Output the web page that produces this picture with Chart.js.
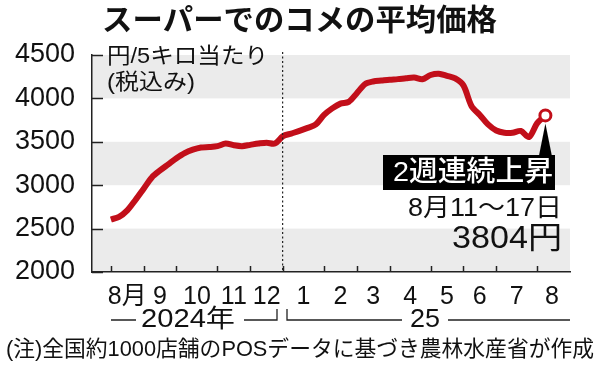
<!DOCTYPE html>
<html>
<head>
<meta charset="utf-8">
<script src="https://cdn.jsdelivr.net/npm/chart.js@4.4.0/dist/chart.umd.min.js"></script>
<style>
  html, body { margin: 0; padding: 0; background: #fff; }
  canvas { display: block; }
</style>
</head>
<body>
<canvas id="riceChart" width="600" height="365"></canvas>
<script>
// weekly average price, yen per 5kg (tax incl.), Aug 2024 -> Aug 11-17 2025
const prices = [
  2605, 2635, 2710, 2830, 2960, 3090, 3170, 3240, 3310, 3370,
  3410, 3435, 3440, 3450, 3480, 3460, 3450, 3465, 3480, 3490,
  3480, 3565, 3595, 3625, 3660, 3700, 3810, 3885, 3940, 3960,
  4060, 4165, 4195, 4205, 4215, 4222, 4232, 4240, 4220, 4270,
  4285, 4260, 4230, 4150, 3910, 3810, 3700, 3630, 3605, 3605,
  3625, 3555, 3715, 3804
];
const weekIndex = prices.map((_, i) => i);

// month boundaries and label centres, in weeks from the first point
const monthStarts = [0, 4, 8, 13, 17, 21, 26, 30, 34, 39, 43, 47, 52];
const monthLabelPos = [2, 6, 10.5, 15, 19, 23.5, 28, 32, 36.5, 41, 45, 49.5, 53.8];
const monthLabels = ['8月', '9', '10', '11', '12', '1', '2', '3', '4', '5', '6', '7', '8'];
const yTicks = [2000, 2500, 3000, 3500, 4000, 4500];
const yearBreak = 21;

const FONT = '"Liberation Sans", "Noto Sans CJK JP", sans-serif';
const JP = '"Noto Sans CJK JP", sans-serif';
const RED = '#c20f1a';
const INK = '#111';

// draw text squeezed/stretched to a given width
function fitText(ctx, text, left, midY, width, font, color) {
    ctx.save();
    ctx.font = font;
    ctx.fillStyle = color || INK;
    ctx.textAlign = 'left';
    ctx.textBaseline = 'middle';
    const w = ctx.measureText(text).width;
    ctx.translate(left, midY);
    ctx.scale(width / w, 1);
    ctx.fillText(text, 0, 0);
    ctx.restore();
}

const decor = {
    id: 'decor',
    beforeDraw(chart) {
        const { ctx, chartArea: a, scales: { y } } = chart;
        ctx.save();
        ctx.fillStyle = '#ebebeb';
        [[4000, 4500], [3000, 3500], [2000, 2500]].forEach(([lo, hi]) => {
            const top = y.getPixelForValue(hi);
            ctx.fillRect(a.left, top, a.right - a.left, y.getPixelForValue(lo) - top);
        });
        ctx.restore();
    },
    afterDatasetsDraw(chart) {
        const { ctx, chartArea: a, scales: { x, y } } = chart;
        ctx.save();

        // inward ticks
        ctx.strokeStyle = '#222';
        ctx.lineWidth = 1.5;
        ctx.beginPath();
        yTicks.forEach(v => {
            const py = Math.round(y.getPixelForValue(v)) + 0.5;
            ctx.moveTo(a.left, py);
            ctx.lineTo(a.left + 11, py);
        });
        monthStarts.forEach(v => {
            const px = Math.round(x.getPixelForValue(v)) + 0.5;
            ctx.moveTo(px, a.bottom);
            ctx.lineTo(px, a.bottom - 6);
        });
        ctx.stroke();

        // year divider
        const bx = x.getPixelForValue(yearBreak - 0.05);
        ctx.setLineDash([2, 2.5]);
        ctx.lineWidth = 1.2;
        ctx.beginPath();
        ctx.moveTo(bx, a.top - 3);
        ctx.lineTo(bx, a.bottom);
        ctx.stroke();
        ctx.setLineDash([]);

        // unit
        fitText(ctx, '円/5キロ当たり', 107, 57, 161, '22px ' + FONT);
        fitText(ctx, '(税込み)', 107, 83, 88, '22px ' + FONT);

        // callout
        const last = prices.length - 1;
        const px = x.getPixelForValue(weekIndex[last]);
        const py = y.getPixelForValue(prices[last]);
        ctx.fillStyle = '#000';
        ctx.beginPath();
        ctx.moveTo(px, py + 8);
        ctx.lineTo(px - 6.5, 156);
        ctx.lineTo(px + 6.5, 156);
        ctx.closePath();
        ctx.fill();
        ctx.fillRect(383, 155, 172, 35);
        fitText(ctx, '2週連続上昇', 393, 173, 160, '500 28px ' + FONT, '#fff');
        fitText(ctx, '8月11～17日', 408, 209, 154, '25px ' + FONT);
        fitText(ctx, '3804円', 452, 239, 110, '31px ' + FONT);

        // year row
        const ry = 320;
        ctx.strokeStyle = '#222';
        ctx.lineWidth = 1.3;
        ctx.beginPath();
        ctx.moveTo(111, ry); ctx.lineTo(136, ry);
        ctx.moveTo(244, ry); ctx.lineTo(277, ry); ctx.lineTo(277, ry - 11);
        ctx.moveTo(287, ry - 11); ctx.lineTo(287, ry); ctx.lineTo(402, ry);
        ctx.moveTo(448, ry); ctx.lineTo(570, ry);
        ctx.stroke();
        fitText(ctx, '2024年', 141, ry, 94, '25px ' + FONT);
        fitText(ctx, '25', 410, ry, 30, '25px ' + FONT);

        // title and note
        fitText(ctx, 'スーパーでのコメの平均価格', 102, 19, 395, 'bold 30px ' + JP);
        fitText(ctx, '(注)全国約1000店舗のPOSデータに基づき農林水産省が作成', 6, 350, 588, '22px ' + FONT);
        ctx.restore();
    }
};

new Chart(document.getElementById('riceChart'), {
    type: 'line',
    data: {
        datasets: [{
            data: prices.map((v, i) => ({ x: weekIndex[i], y: v })),
            borderColor: RED,
            borderWidth: 6,
            tension: 0.3,
            pointRadius: prices.map((_, i) => i === prices.length - 1 ? 5.5 : 0),
            pointBackgroundColor: '#fff',
            pointBorderColor: RED,
            pointBorderWidth: 3,
            fill: false
        }]
    },
    options: {
        responsive: false,
        animation: false,
        layout: { padding: { top: 55, right: 30, left: 0, bottom: 0 } },
        plugins: { legend: { display: false }, tooltip: { enabled: false } },
        scales: {
            x: {
                type: 'linear',
                min: -2.3,
                max: 56,
                afterBuildTicks: axis => { axis.ticks = monthLabelPos.map(v => ({ value: v })); },
                afterFit: axis => { axis.height = 93; },
                grid: { display: false },
                border: { display: true, color: '#222', width: 1.5 },
                ticks: {
                    autoSkip: false,
                    maxRotation: 0,
                    padding: 2,
                    color: INK,
                    font: { family: FONT, size: 25 },
                    callback: (v, i) => monthLabels[i]
                }
            },
            y: {
                min: 2000,
                max: 4500,
                afterBuildTicks: axis => { axis.ticks = yTicks.map(v => ({ value: v })); },
                afterFit: axis => { axis.width = 92; },
                grid: { display: false },
                border: { display: true, color: '#222', width: 1.5 },
                ticks: {
                    padding: 9,
                    color: INK,
                    font: { family: FONT, size: 27 },
                    callback: v => String(v)
                }
            }
        }
    },
    plugins: [decor]
});
</script>
</body>
</html>
